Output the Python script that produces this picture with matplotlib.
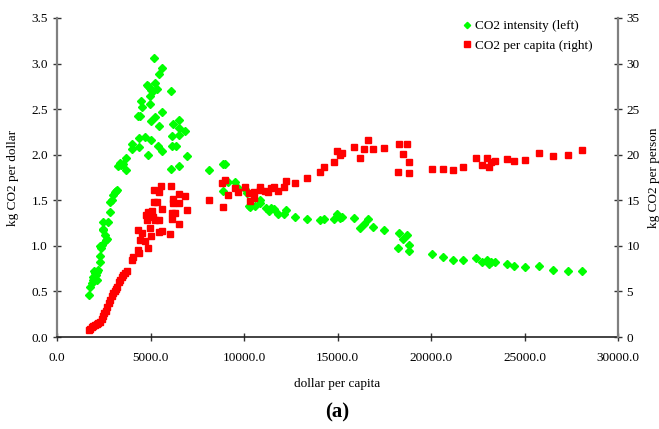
import matplotlib
matplotlib.use("Agg")
import matplotlib.pyplot as plt
from matplotlib.lines import Line2D
from matplotlib.ticker import FormatStrFormatter, MultipleLocator

plt.rcParams['font.family'] = ['Liberation Serif', 'DejaVu Serif']

# CO2 intensity (kg CO2 per dollar, left axis)
int_x = [1730, 1770, 1860, 1900, 1950, 2000, 2040, 2080, 2130, 2160, 2210, 2300, 2300,
         2320, 2370, 2390, 2460, 2480, 2480, 2570, 2620, 2680, 2750, 2840, 2860, 2930,
         3020, 3100, 3150, 3200,
         3270, 3350, 3420, 3540, 3680, 3710, 4000, 4030, 4410, 4360, 4710, 4840, 5050,
         5390, 5640, 6140, 6370, 6950, 6070, 6500, 4350, 4460, 4500, 4570, 4950, 4960,
         5000, 5250, 5610, 5480, 6200, 6550, 6520, 6840, 6500, 6140, 4800, 4880, 4960,
         5050, 5130, 5230, 5370, 6110, 5180, 5590, 5480,
         8140, 8860, 8980, 9140, 8870, 9500, 9680, 10070, 10160, 10280, 10300, 10570,
         10840, 10840, 11190, 11350, 11430, 11620, 11840, 12160, 12270, 12710, 13350,
         14070, 14260, 14800, 14960, 15120, 15250, 15890, 16190, 16410, 16620, 16890,
         17480, 18300, 18260, 18500, 18710, 18800, 18850,
         20070, 20640, 21160, 21710, 22430, 22710, 22990, 23100, 23190, 23410, 24070,
         24420, 25000, 25750, 26550, 27320, 28050]
int_y = [0.46, 0.55, 0.59, 0.62, 0.66, 0.72, 0.70, 0.68, 0.63, 0.71, 0.74, 0.82, 0.89,
         1.00, 0.98, 1.01, 1.18, 1.17, 1.26, 1.12, 1.06, 1.08, 1.26, 1.37, 1.48, 1.50,
         1.56, 1.59, 1.60, 1.61,
         1.88, 1.91, 1.89, 1.90, 1.83, 1.96, 2.06, 2.12, 2.08, 2.18, 2.19, 2.00, 2.16,
         2.10, 2.04, 2.10, 2.10, 1.99, 1.84, 1.88, 2.42, 2.42, 2.59, 2.52, 2.56, 2.64,
         2.37, 2.41, 2.47, 2.31, 2.34, 2.38, 2.29, 2.26, 2.22, 2.21, 2.77, 2.75, 2.73,
         2.71, 2.70, 2.79, 2.72, 2.70, 3.06, 2.95, 2.89,
         1.83, 1.90, 1.90, 1.70, 1.60, 1.70, 1.63, 1.62, 1.58, 1.44, 1.43, 1.44,
         1.47, 1.50, 1.41, 1.38, 1.41, 1.40, 1.35, 1.35, 1.39, 1.32, 1.30,
         1.28, 1.30, 1.29, 1.35, 1.31, 1.32, 1.31, 1.20, 1.24, 1.29, 1.21,
         1.17, 1.14, 0.98, 1.08, 1.12, 1.01, 0.94,
         0.91, 0.88, 0.85, 0.85, 0.87, 0.82, 0.84, 0.80, 0.82, 0.82, 0.80,
         0.78, 0.77, 0.78, 0.74, 0.72, 0.72]

# CO2 per capita (kg CO2 per person, right axis)
pc_x = [1710, 1770, 1850, 1950, 2050, 2130, 2200, 2300, 2380, 2450, 2520, 2600, 2700,
        2780, 2840, 2920, 3000, 3080, 3150, 3230, 3300, 3370, 3450, 3550, 3650, 3730,
        4000, 4090, 4350, 4390, 4840,
        4350, 4450, 4530, 4710, 5030, 4980, 4750, 4850, 4950, 5100, 5160, 4800, 5250,
        5480, 5210, 5340, 5600, 5430, 5610, 6050, 5570, 5180, 5480, 6100, 6530, 6820,
        6200, 6200, 6500, 6140, 6320, 6140, 6930, 6500,
        8140, 8860, 8800, 9000, 9140, 9500, 9680, 10030, 10270, 10300, 10550, 10550,
        10840, 10840, 11140, 11300, 11430, 11620, 11820, 12160, 12270, 12710, 13350,
        14050, 14260, 14800, 14960, 15120, 15230, 15890, 16190, 16410, 16620, 16890,
        17480, 18300, 18260, 18500, 18710, 18800, 18850,
        20070, 20640, 21160, 21710, 22430, 22710, 22990, 23100, 23190, 23410, 24070,
        24420, 25000, 25750, 26550, 27320, 28050]
pc_y = [0.8, 0.9, 1.1, 1.2, 1.3, 1.4, 1.5, 1.7, 2.0, 2.3, 2.6, 2.9, 3.3,
        3.7, 4.1, 4.5, 4.8, 5.0, 5.3, 5.5, 6.0, 6.3, 6.6, 6.8, 7.0, 7.2,
        8.4, 8.8, 9.5, 9.2, 9.8,
        11.7, 10.6, 11.4, 10.5, 11.1, 12.0, 13.4, 13.7, 13.5, 13.8, 13.2, 12.8, 12.8,
        12.8, 14.8, 14.8, 14.0, 11.5, 11.6, 11.3, 16.6, 16.1, 15.9, 16.6, 15.7, 15.5,
        15.1, 14.7, 14.7, 13.6, 13.6, 13.0, 13.9, 12.4,
        15.0, 14.3, 16.9, 17.2, 15.6, 16.3, 15.9, 16.5, 15.8, 14.9, 15.9, 15.3,
        16.5, 16.1, 16.0, 15.9, 16.4, 16.5, 16.0, 16.5, 17.1, 16.9, 17.4,
        18.1, 18.7, 19.2, 20.4, 20.0, 20.2, 20.9, 19.6, 20.6, 21.6, 20.6,
        20.7, 21.2, 18.1, 20.1, 21.2, 19.2, 18.0,
        18.4, 18.4, 18.3, 18.7, 19.6, 18.9, 19.6, 18.7, 19.2, 19.3, 19.5,
        19.3, 19.4, 20.2, 19.9, 20.0, 20.5]

labels = ['CO2 intensity (left)', 'CO2 per capita (right)']

fig = plt.figure(figsize=(6.59, 4.29), dpi=100)
ax = fig.add_axes([57/659, 1-337/429, (618-57)/659, (337-18)/429])
ax2 = ax.twinx()

green = '#00FF00'
red = '#FF0000'
ax.plot(int_x, int_y, linestyle='none', marker='D', ms=3.6, color=green, mec=green, zorder=3)
ax2.plot(pc_x, pc_y, linestyle='none', marker='s', ms=4.6, color=red, mec=red, zorder=3)

ax.set_xlim(0, 30000)
ax.set_ylim(0, 3.5)
ax2.set_ylim(0, 35)
ax.xaxis.set_major_locator(MultipleLocator(5000))
ax.yaxis.set_major_locator(MultipleLocator(0.5))
ax2.yaxis.set_major_locator(MultipleLocator(5))
ax.xaxis.set_major_formatter(FormatStrFormatter('%.1f'))
ax.yaxis.set_major_formatter(FormatStrFormatter('%.1f'))

for a in (ax, ax2):
    a.spines['top'].set_visible(False)
    a.patch.set_visible(False)
ax.spines['right'].set_visible(False)
ax2.spines['left'].set_visible(False)
ax2.spines['bottom'].set_visible(False)
ax.spines['left'].set_color('#808080')
ax.spines['left'].set_linewidth(1.6)
ax2.spines['right'].set_color('#808080')
ax2.spines['right'].set_linewidth(1.6)
ax.spines['bottom'].set_color('#222222')
ax.spines['bottom'].set_linewidth(1.2)

fs = 9.5
ax.tick_params(axis='both', direction='inout', length=6, width=1, labelsize=fs, color='#333333')
ax2.tick_params(axis='y', direction='inout', length=6, width=1, labelsize=fs, color='#333333', pad=3)
ax.tick_params(axis='x', pad=8)

ax.set_xlabel('dollar per capita', fontsize=fs, labelpad=10)
ax.set_ylabel('kg CO2 per dollar', fontsize=fs, labelpad=9)
ax2.set_ylabel('kg CO2 per person', fontsize=fs, labelpad=6)

handles = [Line2D([], [], linestyle='none', marker='D', ms=3.2, color=green),
           Line2D([], [], linestyle='none', marker='s', ms=4.2, color=red)]
ax2.legend(handles, labels, loc='upper left', bbox_to_anchor=(0.71, 1.01),
           frameon=False, fontsize=fs, handletextpad=0.1, handlelength=1.0,
           labelspacing=0.55, borderaxespad=0)

fig.text(0.512, 1-412/429, '(a)', ha='center', va='center', fontsize=15, fontweight='bold')

fig.savefig('out.png', dpi=100)
